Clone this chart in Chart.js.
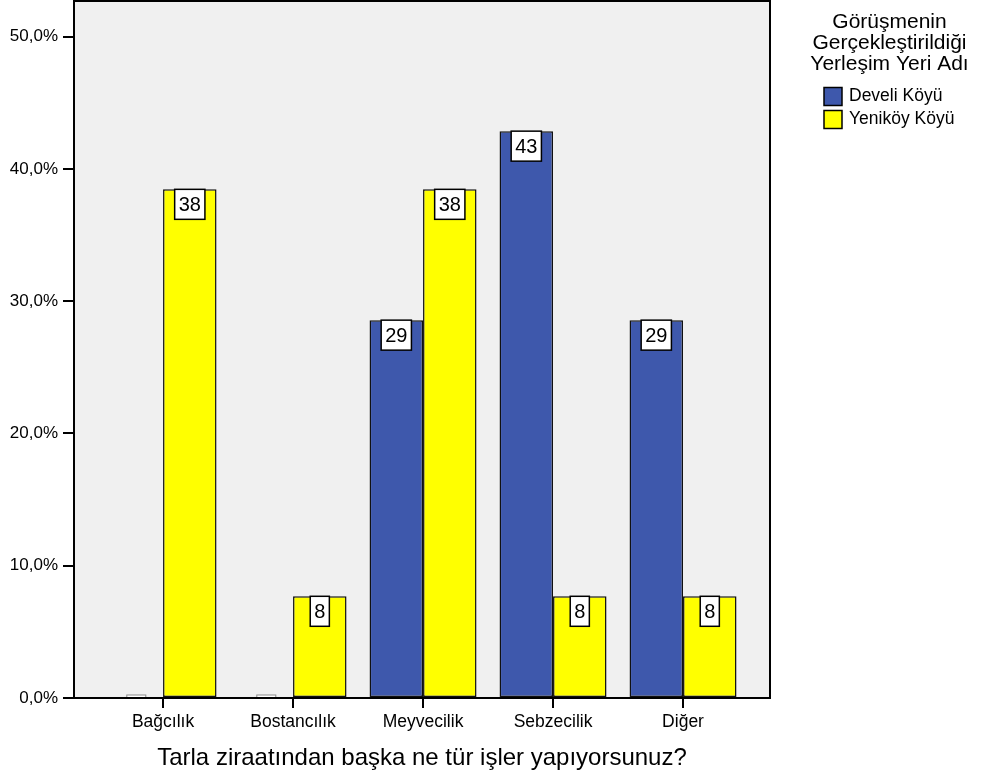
<!DOCTYPE html>
<html>
<head>
<meta charset="utf-8">
<script src="https://cdn.jsdelivr.net/npm/chart.js@4"></script>
<style>
  html, body { margin: 0; padding: 0; background: #fff; }
  #wrap { width: 985px; height: 773px; }
</style>
</head>
<body>
<div id="wrap"><canvas id="barChart" width="985" height="773"></canvas></div>
<script>
// Chart data
const categories = ['Bağcılık', 'Bostancılık', 'Meyvecilik', 'Sebzecilik', 'Diğer'];
const seriesNames = ['Develi Köyü', 'Yeniköy Köyü'];
const develiValues = [0, 0, 28.57, 42.86, 28.57];
const yenikoyValues = [38.46, 7.69, 38.46, 7.69, 7.69];
const yTickValues = [0, 10, 20, 30, 40, 50];
const legendTitle = ['Görüşmenin', 'Gerçekleştirildiği', 'Yerleşim Yeri Adı'];
const xTitle = 'Tarla ziraatından başka ne tür işler yapıyorsunuz?';

const FONT = 'Arial, "Liberation Sans", sans-serif';
const seriesColors = ['#3e58ac', '#ffff00'];

// Plot background, zero markers, value boxes, frame and legend
const spssLook = {
    id: 'spssLook',
    beforeDraw(chart) {
        const { ctx, chartArea: a } = chart;
        ctx.save();
        ctx.fillStyle = '#f0f0f0';
        ctx.fillRect(a.left, a.top, a.right - a.left, a.bottom - a.top);
        ctx.restore();
    },
    afterDatasetsDraw(chart) {
        const { ctx, chartArea: a } = chart;
        ctx.save();
        chart.data.datasets.forEach((ds, di) => {
            const meta = chart.getDatasetMeta(di);
            meta.data.forEach((bar, i) => {
                const v = ds.data[i];
                if (v === 0) {
                    // SPSS draws a tiny empty bar for zero counts
                    ctx.fillStyle = '#ffffff';
                    ctx.strokeStyle = '#8a8a8a';
                    ctx.lineWidth = 1;
                    ctx.fillRect(bar.x - 9.5, a.bottom - 3, 19, 3);
                    ctx.strokeRect(bar.x - 9.5, a.bottom - 3, 19, 3);
                    return;
                }
                const txt = String(Math.round(v));
                ctx.font = '20px ' + FONT;
                const w = ctx.measureText(txt).width + 8;
                const h = 30;
                const top = bar.y;
                ctx.fillStyle = '#ffffff';
                ctx.fillRect(bar.x - w / 2, top, w, h);
                ctx.strokeStyle = '#000';
                ctx.lineWidth = 1.5;
                ctx.strokeRect(bar.x - w / 2, top, w, h);
                ctx.fillStyle = '#000';
                ctx.textAlign = 'center';
                ctx.textBaseline = 'middle';
                ctx.fillText(txt, bar.x, top + h / 2 + 1);
            });
        });
        // frame around the plot
        ctx.strokeStyle = '#000';
        ctx.lineWidth = 2;
        ctx.strokeRect(a.left, a.top, a.right - a.left, a.bottom - a.top);
        ctx.restore();
    },
    afterDraw(chart) {
        const { ctx } = chart;
        ctx.save();
        ctx.fillStyle = '#000';
        ctx.textAlign = 'center';
        ctx.textBaseline = 'middle';
        ctx.font = '21px ' + FONT;
        legendTitle.forEach((line, i) => ctx.fillText(line, 889.5, 22 + i * 21));
        ctx.font = '17.5px ' + FONT;
        ctx.textAlign = 'left';
        seriesNames.forEach((name, i) => {
            const y = 96.5 + i * 23;
            ctx.fillStyle = seriesColors[i];
            ctx.fillRect(824, y - 9, 18, 18);
            ctx.strokeStyle = '#000';
            ctx.lineWidth = 1.5;
            ctx.strokeRect(824, y - 9, 18, 18);
            ctx.fillStyle = '#000';
            ctx.fillText(name, 849, y);
        });
        ctx.restore();
    }
};

new Chart(document.getElementById('barChart'), {
    type: 'bar',
    data: {
        labels: categories,
        datasets: [
            { label: seriesNames[0], data: develiValues, backgroundColor: seriesColors[0] },
            { label: seriesNames[1], data: yenikoyValues, backgroundColor: seriesColors[1] }
        ]
    },
    options: {
        responsive: false,
        animation: false,
        devicePixelRatio: 1,
        layout: { padding: { top: 1, right: 215, left: 0, bottom: 0 } },
        datasets: {
            bar: {
                barPercentage: 1,
                categoryPercentage: 0.823,
                borderColor: '#111',
                borderWidth: 1.5,
                borderSkipped: false
            }
        },
        plugins: {
            legend: { display: false },
            tooltip: { enabled: false }
        },
        scales: {
            x: {
                offset: true,
                border: { display: false },
                grid: { drawOnChartArea: false, offset: false, tickLength: 10, color: '#000', lineWidth: 2 },
                ticks: { color: '#000', font: { family: FONT, size: 17.5 }, padding: 4, maxRotation: 0 },
                title: { display: true, text: xTitle, color: '#000', font: { family: FONT, size: 24 }, padding: { top: 2, bottom: 0 } },
                // spread categories like the original: centres 130px apart with wide side margins
                afterBuildTicks(scale) {
                    scale._startValue = -0.685;
                    scale._valueRange = 5.354;
                },
                afterFit(scale) {
                    scale.height = 75;
                    scale.paddingLeft = 0;
                    scale.paddingRight = 0;
                }
            },
            y: {
                min: 0,
                max: 52.7,
                border: { display: false },
                grid: { drawOnChartArea: false, tickLength: 11, color: '#000', lineWidth: 2 },
                ticks: {
                    color: '#000',
                    font: { family: FONT, size: 17 },
                    padding: 5,
                    callback: v => v.toFixed(1).replace('.', ',') + '%'
                },
                afterBuildTicks(scale) {
                    scale.ticks = yTickValues.map(v => ({ value: v }));
                },
                afterFit(scale) {
                    scale.width = 74;
                    scale.paddingTop = 0;
                    scale.paddingBottom = 0;
                }
            }
        }
    },
    plugins: [spssLook]
});
</script>
</body>
</html>
